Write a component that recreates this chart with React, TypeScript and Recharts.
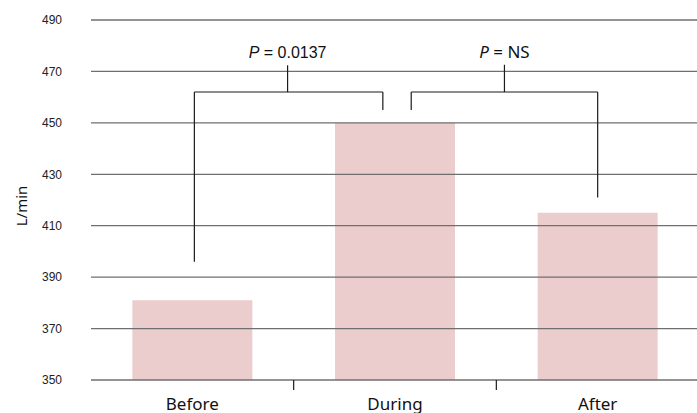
import React from 'react';
import { BarChart, Bar, XAxis, YAxis, ReferenceLine, ReferenceDot } from 'recharts';

const categories = ['Before', 'During', 'After'];
const flowValues = [381, 450, 415];
const yTicks = [350, 370, 390, 410, 430, 450, 470, 490];
const yDomain = [350, 490];
const spanDomain = [0, 3];

// significance brackets (x on a 0..3 category-span scale, y in L/min)
const bracketLabels = ['0.0137', 'NS'];
const bracketLabelFonts = ['Liberation Sans', 'Noto Sans'];
const bracketLeftX = [0.51, 1.58];
const bracketRightX = [1.44, 2.5];
const bracketStemX = [0.97, 2.04];
const bracketTopY = [462, 462];
const bracketLeftEndY = [396, 455];
const bracketRightEndY = [455, 421];
const bracketStemTopY = [472.4, 472.6];

const data = categories.map((c, i) => ({ name: c, value: flowValues[i], pos: i + 0.5 }));

const LINE = '#1a1a1a';
const GRID = '#6f6f6f';

const CategoryTick = (props: any) => {
  const { x, y, payload, index, width } = props;
  const half = payload && typeof payload.offset === 'number' && payload.offset > 0
    ? payload.offset
    : width / categories.length / 2;
  return (
    <g>
      <text x={x} y={y + 30} textAnchor="middle" fontFamily="Noto Sans" fontSize={17} fill="#111">
        {payload.value}
      </text>
      {index < categories.length - 1 && (
        <line x1={x + half} x2={x + half} y1={y} y2={y + 10} stroke={LINE} strokeWidth={1.2} />
      )}
    </g>
  );
};

const YLabel = (props: any) => {
  const vb = props.viewBox || { x: 0, y: 0, width: 0, height: 0 };
  const cx = vb.x + 21;
  const cy = vb.y + vb.height / 2 + 6;
  return (
    <text
      x={cx}
      y={cy}
      transform={`rotate(-90, ${cx}, ${cy})`}
      textAnchor="middle"
      dominantBaseline="central"
      fontFamily="Noto Sans"
      fontSize={15}
      fill="#111"
    >
      L/min
    </text>
  );
};

export default function App() {
  return (
    <div style={{ position: 'absolute', left: 0, top: 0, width: 697, height: 413, overflow: 'hidden', background: '#fff' }}>
      <BarChart width={700} height={413} data={data} margin={{ top: 20, right: 1, bottom: 0, left: 0 }} barCategoryGap="20.4%">
        <XAxis
          xAxisId="cat"
          dataKey="name"
          height={33}
          axisLine={false}
          tickLine={false}
          tickSize={0}
          tickMargin={0}
          interval={0}
          tick={<CategoryTick />}
        />
        <XAxis xAxisId="num" type="number" dataKey="pos" domain={spanDomain} allowDataOverflow scale="linear" hide />
        <YAxis
          domain={yDomain}
          ticks={yTicks}
          width={91}
          axisLine={false}
          tickLine={false}
          tickSize={0}
          tickMargin={29}
          interval={0}
          tick={{ fontFamily: 'Liberation Sans', fontSize: 12, fill: '#222' }}
          label={<YLabel />}
        />
        <Bar xAxisId="cat" dataKey="value" fill="#eccdcd" isAnimationActive={false} />
        {yTicks.map((t) => (
          <ReferenceLine key={`g${t}`} xAxisId="cat" y={t} stroke={GRID} strokeWidth={1.3} ifOverflow="visible" />
        ))}
        {bracketLabels.map((lab, i) => (
          <React.Fragment key={`b${i}`}>
            <ReferenceLine
              xAxisId="num"
              ifOverflow="visible"
              stroke={LINE}
              strokeWidth={1.2}
              segment={[{ x: bracketLeftX[i], y: bracketLeftEndY[i] }, { x: bracketLeftX[i], y: bracketTopY[i] }]}
            />
            <ReferenceLine
              xAxisId="num"
              ifOverflow="visible"
              stroke={LINE}
              strokeWidth={1.2}
              segment={[{ x: bracketLeftX[i], y: bracketTopY[i] }, { x: bracketRightX[i], y: bracketTopY[i] }]}
            />
            <ReferenceLine
              xAxisId="num"
              ifOverflow="visible"
              stroke={LINE}
              strokeWidth={1.2}
              segment={[{ x: bracketRightX[i], y: bracketTopY[i] }, { x: bracketRightX[i], y: bracketRightEndY[i] }]}
            />
            <ReferenceLine
              xAxisId="num"
              ifOverflow="visible"
              stroke={LINE}
              strokeWidth={1.2}
              segment={[{ x: bracketStemX[i], y: bracketTopY[i] }, { x: bracketStemX[i], y: bracketStemTopY[i] }]}
            />
            <ReferenceDot
              xAxisId="num"
              x={bracketStemX[i]}
              y={bracketStemTopY[i]}
              r={0}
              ifOverflow="visible"
              shape={(p: any) => (
                <text
                  x={p.cx}
                  y={p.cy - 7}
                  textAnchor="middle"
                  fontFamily={bracketLabelFonts[i]}
                  fontSize={i === 0 ? 16 : 17}
                  fill="#111"
                >
                  <tspan fontStyle="italic">P</tspan>
                  <tspan>{` = ${lab}`}</tspan>
                </text>
              )}
            />
          </React.Fragment>
        ))}
      </BarChart>
    </div>
  );
}
